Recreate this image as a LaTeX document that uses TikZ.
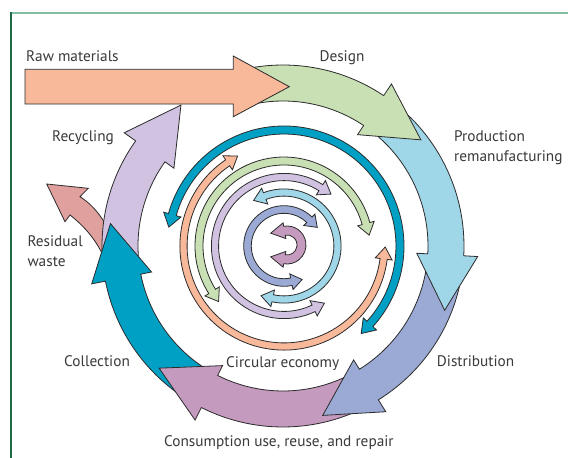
\documentclass[tikz,border=0pt]{standalone}
\usepackage{fontspec}
\setmainfont{PT Sans}
\definecolor{cRaw}{HTML}{F8B89A}
\definecolor{cGreen}{HTML}{C8E0B4}
\definecolor{cLBlue}{HTML}{9FD6E8}
\definecolor{cSlate}{HTML}{9AAAD4}
\definecolor{cMauve}{HTML}{C49ABE}
\definecolor{cTeal}{HTML}{00A0C4}
\definecolor{cLav}{HTML}{D0C2E0}
\definecolor{cPink}{HTML}{E0A09E}
\definecolor{cLine}{HTML}{2B2B2B}
\definecolor{cText}{HTML}{3A3A3A}
\definecolor{cFrameTop}{HTML}{80BFA0}
\definecolor{cFrameLeft}{HTML}{1E6B45}
\tikzset{
  shapeline/.style={draw=cLine, line width=0.8pt, line join=miter},
  txt/.style={text=cText, inner sep=0pt, font=\fontsize{15.3}{18}\selectfont},
}
% outer ring arrow: colour, tail angle, head base angle (clockwise travel)
\newcommand{\outerarrow}[3]{%
  \pgfmathsetmacro{\oaTip}{#3-18.6}%
  \filldraw[fill=#1, shapeline] (#2:181pt) arc[start angle=#2, end angle=#3, radius=181pt]
    -- (#3:195pt) -- (\oaTip:174pt) -- (#3:134pt) -- (#3:145pt)
    arc[start angle=#3, end angle=#2, radius=145pt] -- cycle;
}
% inner ring double arrow: colour, rmid, half band, base start, base end, head half width, head length
\newcommand{\innerring}[7]{%
  \pgfmathsetmacro{\irA}{#2-#3}%
  \pgfmathsetmacro{\irB}{#2+#3}%
  \pgfmathsetmacro{\irC}{#2-#6}%
  \pgfmathsetmacro{\irD}{#2+#6}%
  \pgfmathsetmacro{\irT}{sqrt((#2)*(#2)+(#7)*(#7))}%
  \pgfmathsetmacro{\irS}{(#5>#4)?1:-1}%
  \pgfmathsetmacro{\irE}{#5+\irS*atan((#7)/(#2))}%
  \pgfmathsetmacro{\irF}{#4-\irS*atan((#7)/(#2))}%
  \filldraw[fill=#1, shapeline] (#4:\irB pt) arc[start angle=#4, end angle=#5, radius=\irB pt]
    -- (#5:\irD pt) -- (\irE:\irT pt) -- (#5:\irC pt) -- (#5:\irA pt)
    arc[start angle=#5, end angle=#4, radius=\irA pt]
    -- (#4:\irC pt) -- (\irF:\irT pt) -- (#4:\irD pt) -- cycle;
}
\begin{document}
\begin{tikzpicture}[x=1pt,y=-1pt]
\useasboundingbox (0,0) rectangle (568,458);
\fill[white] (0,0) rectangle (568,458);
% frame
\draw[cFrameTop, line width=2pt] (11,13) -- (568,13);
\draw[cFrameLeft, line width=1.1pt] (11,12) -- (11,458);

% residual waste
\filldraw[fill=cPink, shapeline] (80,196.7) -- (88.3,188.3) -- (46.7,184) -- (65,221.7) -- (70,215)
  .. controls (84,226) and (97,240) .. (106,262) -- (116,250)
  .. controls (110,228) and (98,208) .. cycle;

\begin{scope}[shift={(283,246)}]
  \outerarrow{cLav}{191.2}{144.5}
  \outerarrow{cTeal}{243.2}{191.2}
  \outerarrow{cMauve}{301.8}{243.2}
  \outerarrow{cSlate}{356.9}{301.8}
  \outerarrow{cLBlue}{56.2}{-3.1}
  \outerarrow{cGreen}{103}{56.2}
\end{scope}

% raw materials
\filldraw[fill=cRaw, shapeline] (25,69.3) -- (233.3,69.3) -- (233.3,56) -- (289.3,86.7)
  -- (233.3,116.7) -- (233.3,104) -- (25,104) -- cycle;

% inner rings
\begin{scope}[shift={(284,246)}]
  \innerring{cTeal}{116}{4}{164.3}{-42.2}{9}{13}
  \innerring{cRaw}{100.5}{3.6}{124.1}{352.6}{8.5}{12}
  \innerring{cGreen}{85}{4}{212.3}{15.3}{8.5}{12}
  \innerring{cLav}{69}{3.6}{57.7}{295.4}{8.5}{12}
  \innerring{cLBlue}{53.5}{3.6}{111.1}{-102.2}{8.5}{12}
  \innerring{cSlate}{36.5}{3.8}{46}{281.7}{8}{11}
\end{scope}
\begin{scope}[shift={(287,245)}]
  \innerring{cMauve}{14.5}{4.5}{100}{-100}{8}{14}
\end{scope}

% labels
\node[txt, anchor=base west] (tRaw) at (26,61.7) {Raw materials};
\node[txt, anchor=base west] (tDesign) at (319.3,61.7) {Design};
\node[txt, anchor=base west] (tProd) at (454,141.7) {Production};
\node[txt, anchor=base west] (tReman) at (454,161.7) {remanufacturing};
\node[txt, anchor=base west] (tRecyc) at (52,141.7) {Recycling};
\node[txt, anchor=base west] (tResid) at (27.3,246.7) {Residual};
\node[txt, anchor=base west] (tWaste) at (27.3,266.2) {waste};
\node[txt, anchor=base west] (tColl) at (64,366.7) {Collection};
\node[txt, anchor=base west] (tCirc) at (226,367.3) {Circular economy};
\node[txt, anchor=base west] (tDist) at (436.7,366) {Distribution};
\node[txt, anchor=base west] (tCons) at (164,446.7) {Consumption use, reuse, and repair};
\end{tikzpicture}
\end{document}
